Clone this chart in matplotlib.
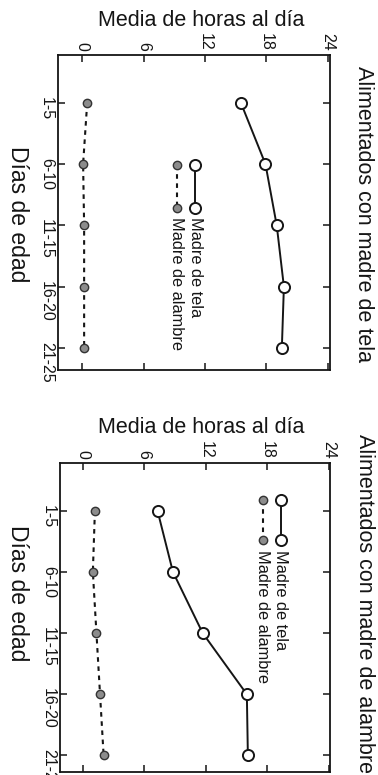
import matplotlib
matplotlib.use('Agg')
import matplotlib.pyplot as plt

plt.rcParams['font.family'] = ['Liberation Sans', 'DejaVu Sans']

# Data
edades = ['1-5', '6-10', '11-15', '16-20', '21-25']
horas_ticks = [0, 6, 12, 18, 24]

# Alimentados con madre de tela
tela_tela = [15.5, 17.9, 19.0, 19.7, 19.5]
tela_alambre = [0.5, 0.1, 0.2, 0.2, 0.2]

# Alimentados con madre de alambre
alambre_tela = [7.3, 8.8, 11.7, 16.0, 16.1]
alambre_alambre = [1.2, 1.0, 1.35, 1.7, 2.05]

W, H = 378, 775
fig = plt.figure(figsize=(W / 100, H / 100), dpi=100)
fig.patch.set_facecolor('white')

ink = '#151515'


def fx(x):
    return x / W


def fy(y):
    return 1 - y / H


def panel(box, xlim, ylim, tela, alambre, title, title_y, ylab_y, xlab_y, leg):
    l, t, r, b = box
    ax = fig.add_axes([fx(l), fy(b), fx(r) - fx(l), fy(t) - fy(b)])
    pos = list(range(len(edades)))
    # rotated chart: hours along the horizontal, age groups going down
    ax.plot(alambre, pos, color=ink, lw=1.5, dashes=(2.2, 2.2),
            marker='o', ms=6, mfc='#8c8c8c', mec='#333333', mew=1.0)
    ax.plot(tela, pos, color=ink, lw=1.4, marker='o', ms=8,
            mfc='white', mec=ink, mew=1.4)
    ax.set_xlim(*xlim)
    ax.set_ylim(*ylim)
    ax.xaxis.tick_top()
    ax.set_xticks(horas_ticks)
    ax.set_xticklabels([str(v) for v in horas_ticks], rotation=-90, fontsize=11.5)
    ax.set_yticks(pos)
    ax.set_yticklabels(edades, rotation=-90, fontsize=11.5)
    ax.tick_params(direction='in', length=5, width=1.1, color=ink,
                   labelcolor=ink, top=True, bottom=True, left=True,
                   right=True, labelbottom=False, labeltop=True, pad=3)
    for s in ax.spines.values():
        s.set_linewidth(1.3)
        s.set_color(ink)

    fig.text(fx(201), fy(ylab_y), 'Media de horas al día', ha='center',
             va='center', fontsize=15.5, color=ink)
    fig.text(fx(17), fy(xlab_y), 'Días de edad', rotation=-90, ha='center',
             va='center', fontsize=16.5, color=ink)
    fig.text(fx(364), fy(title_y), title, rotation=-90, ha='center',
             va='center', fontsize=15.5, color=ink)

    # legend drawn by hand, turned like the rest of the chart
    xt, xa, y0, y1, yt = leg
    fig.add_artist(plt.Line2D([fx(xt), fx(xt)], [fy(y0), fy(y1)], color=ink,
                              lw=1.4, marker='o', ms=8, mfc='white',
                              mec=ink, mew=1.4))
    fig.add_artist(plt.Line2D([fx(xa), fx(xa)], [fy(y0), fy(y1)], color=ink,
                              lw=1.5, dashes=(2.2, 2.2), marker='o', ms=6,
                              mfc='#8c8c8c', mec='#333333', mew=1.0))
    fig.text(fx(xt), fy(yt), 'Madre de tela', rotation=-90, ha='center',
             va='top', fontsize=11.8, color=ink)
    fig.text(fx(xa), fy(yt), 'Madre de alambre', rotation=-90, ha='center',
             va='top', fontsize=11.8, color=ink)
    return ax


panel((58, 55, 330, 370), (-2.35, 24.2), (4.36, -0.78),
      tela_tela, tela_alambre, 'Alimentados con madre de tela',
      214, 21, 214, (195, 177, 165, 208, 217))

panel((60, 463, 330, 772), (-2.2, 24.1), (4.27, -0.78),
      alambre_tela, alambre_alambre, 'Alimentados con madre de alambre',
      604, 427, 593, (281, 263, 500, 540, 550))

fig.savefig('out.png', dpi=100, facecolor='white')
